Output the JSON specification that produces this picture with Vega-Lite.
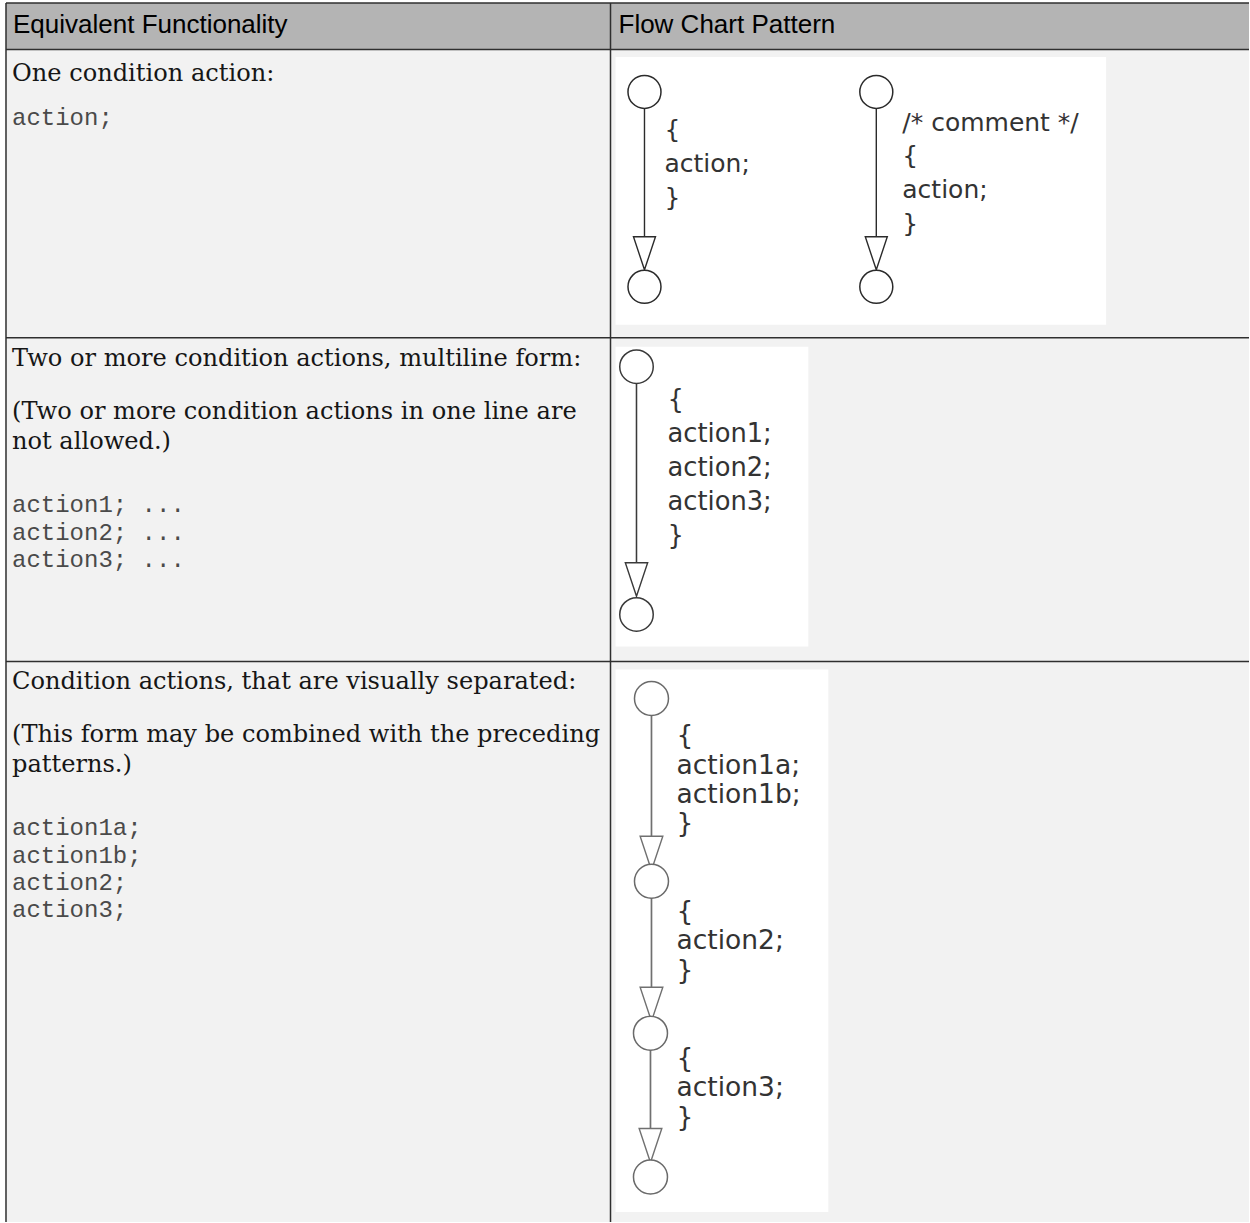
{
  "$schema": "https://vega.github.io/schema/vega-lite/v6.json",
  "width": 1250,
  "height": 1223,
  "autosize": {"type": "fit", "contains": "padding"},
  "padding": 0,
  "background": "white",
  "config": {"view": {"stroke": null}},
  "datasets": {
    "cells": [
      {"kind": "header", "x": 6, "x2": 611, "y": 3, "y2": 49.5},
      {"kind": "header", "x": 611, "x2": 1250, "y": 3, "y2": 49.5},
      {"kind": "cell", "x": 6, "x2": 611, "y": 49.5, "y2": 338},
      {"kind": "cell", "x": 611, "x2": 1250, "y": 49.5, "y2": 338},
      {"kind": "cell", "x": 6, "x2": 611, "y": 338, "y2": 662},
      {"kind": "cell", "x": 611, "x2": 1250, "y": 338, "y2": 662},
      {"kind": "cell", "x": 6, "x2": 611, "y": 662, "y2": 1223},
      {"kind": "cell", "x": 611, "x2": 1250, "y": 662, "y2": 1223},
      {"kind": "image", "x": 616, "x2": 1107, "y": 57, "y2": 325},
      {"kind": "image", "x": 616, "x2": 809, "y": 347, "y2": 647},
      {"kind": "image", "x": 616, "x2": 829, "y": 670, "y2": 1213}
    ],
    "borders": [
      {"x": 6, "x2": 1250, "y": 3, "y2": 3},
      {"x": 6, "x2": 1250, "y": 49.5, "y2": 49.5},
      {"x": 6, "x2": 1250, "y": 338, "y2": 338},
      {"x": 6, "x2": 1250, "y": 662, "y2": 662},
      {"x": 6, "x2": 6, "y": 3, "y2": 1223},
      {"x": 611, "x2": 611, "y": 3, "y2": 1223}
    ],
    "headers": [
      {"x": 13, "y": 33, "text": "Equivalent Functionality"},
      {"x": 619, "y": 33, "text": "Flow Chart Pattern"}
    ],
    "prose": [
      {"x": 12, "y": 81, "text": "One condition action:"},
      {"x": 12, "y": 366, "text": "Two or more condition actions, multiline form:"},
      {"x": 12, "y": 419, "text": "(Two or more condition actions in one line are"},
      {"x": 12, "y": 449, "text": "not allowed.)"},
      {"x": 12, "y": 690, "text": "Condition actions, that are visually separated:"},
      {"x": 12, "y": 743, "text": "(This form may be combined with the preceding"},
      {"x": 12, "y": 773, "text": "patterns.)"}
    ],
    "code": [
      {"x": 12, "y": 125, "text": "action;"},
      {"x": 12, "y": 512, "text": "action1; ..."},
      {"x": 12, "y": 540, "text": "action2; ..."},
      {"x": 12, "y": 567, "text": "action3; ..."},
      {"x": 12, "y": 836, "text": "action1a;"},
      {"x": 12, "y": 864, "text": "action1b;"},
      {"x": 12, "y": 891, "text": "action2;"},
      {"x": 12, "y": 918, "text": "action3;"}
    ],
    "edges": [
      {"panel": "r1", "x": 645, "y": 92, "y2": 237},
      {"panel": "r1", "x": 877, "y": 92, "y2": 237},
      {"panel": "r2", "x": 637, "y": 367, "y2": 563},
      {"panel": "r3", "x": 652, "y": 699, "y2": 840},
      {"panel": "r3", "x": 652, "y": 882, "y2": 992},
      {"panel": "r3", "x": 651, "y": 1034, "y2": 1133}
    ],
    "arrows": [
      {"panel": "r1", "x": 645, "y": 253.5},
      {"panel": "r1", "x": 877, "y": 253.5},
      {"panel": "r2", "x": 637, "y": 580},
      {"panel": "r3", "x": 652, "y": 854},
      {"panel": "r3", "x": 652, "y": 1005},
      {"panel": "r3", "x": 651, "y": 1146.5}
    ],
    "nodes": [
      {"panel": "r1", "x": 645, "y": 92},
      {"panel": "r1", "x": 645, "y": 287},
      {"panel": "r1", "x": 877, "y": 92},
      {"panel": "r1", "x": 877, "y": 287},
      {"panel": "r2", "x": 637, "y": 367},
      {"panel": "r2", "x": 637, "y": 615},
      {"panel": "r3", "x": 652, "y": 699},
      {"panel": "r3", "x": 652, "y": 882},
      {"panel": "r3", "x": 651, "y": 1034},
      {"panel": "r3", "x": 651, "y": 1178}
    ],
    "labels": [
      {"panel": "r1", "x": 665, "y": 138, "text": "{"},
      {"panel": "r1", "x": 665, "y": 172, "text": "action;"},
      {"panel": "r1", "x": 665, "y": 206, "text": "}"},
      {"panel": "r1", "x": 903, "y": 131, "text": "/* comment */"},
      {"panel": "r1", "x": 903, "y": 164, "text": "{"},
      {"panel": "r1", "x": 903, "y": 198, "text": "action;"},
      {"panel": "r1", "x": 903, "y": 232, "text": "}"},
      {"panel": "r2", "x": 668, "y": 408, "text": "{"},
      {"panel": "r2", "x": 668, "y": 442, "text": "action1;"},
      {"panel": "r2", "x": 668, "y": 476, "text": "action2;"},
      {"panel": "r2", "x": 668, "y": 510, "text": "action3;"},
      {"panel": "r2", "x": 668, "y": 544, "text": "}"},
      {"panel": "r3", "x": 677, "y": 745, "text": "{"},
      {"panel": "r3", "x": 677, "y": 775, "text": "action1a;"},
      {"panel": "r3", "x": 677, "y": 804, "text": "action1b;"},
      {"panel": "r3", "x": 677, "y": 833, "text": "}"},
      {"panel": "r3", "x": 677, "y": 921, "text": "{"},
      {"panel": "r3", "x": 677, "y": 950, "text": "action2;"},
      {"panel": "r3", "x": 677, "y": 980, "text": "}"},
      {"panel": "r3", "x": 677, "y": 1068, "text": "{"},
      {"panel": "r3", "x": 677, "y": 1097, "text": "action3;"},
      {"panel": "r3", "x": 677, "y": 1127, "text": "}"}
    ]
  },
  "encoding": {
    "x": {"field": "x", "type": "quantitative", "scale": {"domain": [0, 1250], "nice": false, "zero": false}, "axis": null},
    "y": {"field": "y", "type": "quantitative", "scale": {"domain": [0, 1223], "nice": false, "zero": false, "reverse": true}, "axis": null}
  },
  "layer": [
    {
      "data": {"name": "cells"},
      "mark": {"type": "rect", "strokeWidth": 0},
      "encoding": {
        "x2": {"field": "x2"},
        "y2": {"field": "y2"},
        "fill": {"field": "kind", "type": "nominal", "legend": null,
          "scale": {"domain": ["header", "cell", "image"], "range": ["#b4b4b4", "#f2f2f2", "#ffffff"]}}
      }
    },
    {
      "data": {"name": "borders"},
      "mark": {"type": "rule", "color": "#2f2f2f", "strokeWidth": 1.5},
      "encoding": {
        "x2": {"field": "x2"},
        "y2": {"field": "y2"}
      }
    },
    {
      "data": {"name": "headers"},
      "mark": {"type": "text", "align": "left", "baseline": "alphabetic", "font": "Liberation Sans", "fontSize": 26, "color": "#000000"},
      "encoding": {"text": {"field": "text"}}
    },
    {
      "data": {"name": "prose"},
      "mark": {"type": "text", "align": "left", "baseline": "alphabetic", "font": "DejaVu Serif", "fontSize": 24.1, "color": "#161616"},
      "encoding": {"text": {"field": "text"}}
    },
    {
      "data": {"name": "code"},
      "mark": {"type": "text", "align": "left", "baseline": "alphabetic", "font": "Liberation Mono", "fontSize": 24, "color": "#4a4a4a"},
      "encoding": {"text": {"field": "text"}}
    },
    {
      "data": {"name": "edges"},
      "mark": {"type": "rule"},
      "encoding": {
        "y2": {"field": "y2"},
        "stroke": {"field": "panel", "type": "nominal", "legend": null,
          "scale": {"domain": ["r1", "r2", "r3"], "range": ["#2b2b2b", "#3a3a3a", "#707070"]}},
        "strokeWidth": {"field": "panel", "type": "nominal", "legend": null,
          "scale": {"domain": ["r1", "r2", "r3"], "range": [1.4, 1.7, 2.2]}}
      }
    },
    {
      "data": {"name": "arrows"},
      "mark": {"type": "point", "shape": "M -0.667 -1 L 0.667 -1 L 0 1 Z", "filled": false, "fill": "#ffffff", "fillOpacity": 1, "opacity": 1, "strokeWidth": 1.4},
      "encoding": {
        "stroke": {"field": "panel", "type": "nominal", "legend": null,
          "scale": {"domain": ["r1", "r2", "r3"], "range": ["#2b2b2b", "#3a3a3a", "#707070"]}},
        "size": {"field": "panel", "type": "nominal", "legend": null,
          "scale": {"domain": ["r1", "r2", "r3"], "range": [1089, 1156, 784]}}
      }
    },
    {
      "data": {"name": "nodes"},
      "mark": {"type": "point", "shape": "circle", "filled": false, "fill": "#ffffff", "fillOpacity": 1, "opacity": 1, "strokeWidth": 1.5},
      "encoding": {
        "stroke": {"field": "panel", "type": "nominal", "legend": null,
          "scale": {"domain": ["r1", "r2", "r3"], "range": ["#2b2b2b", "#3a3a3a", "#6a6a6a"]}},
        "size": {"field": "panel", "type": "nominal", "legend": null,
          "scale": {"domain": ["r1", "r2", "r3"], "range": [1089, 1156, 961]}}
      }
    },
    {
      "data": {"name": "labels"},
      "mark": {"type": "text", "align": "left", "baseline": "alphabetic", "font": "DejaVu Sans", "color": "#333333"},
      "encoding": {
        "text": {"field": "text"},
        "size": {"field": "panel", "type": "nominal", "legend": null,
          "scale": {"domain": ["r1", "r2", "r3"], "range": [25, 26.5, 23.5]}}
      }
    }
  ],
  "resolve": {"scale": {"size": "independent", "stroke": "independent", "fill": "independent", "strokeWidth": "independent"}}
}
